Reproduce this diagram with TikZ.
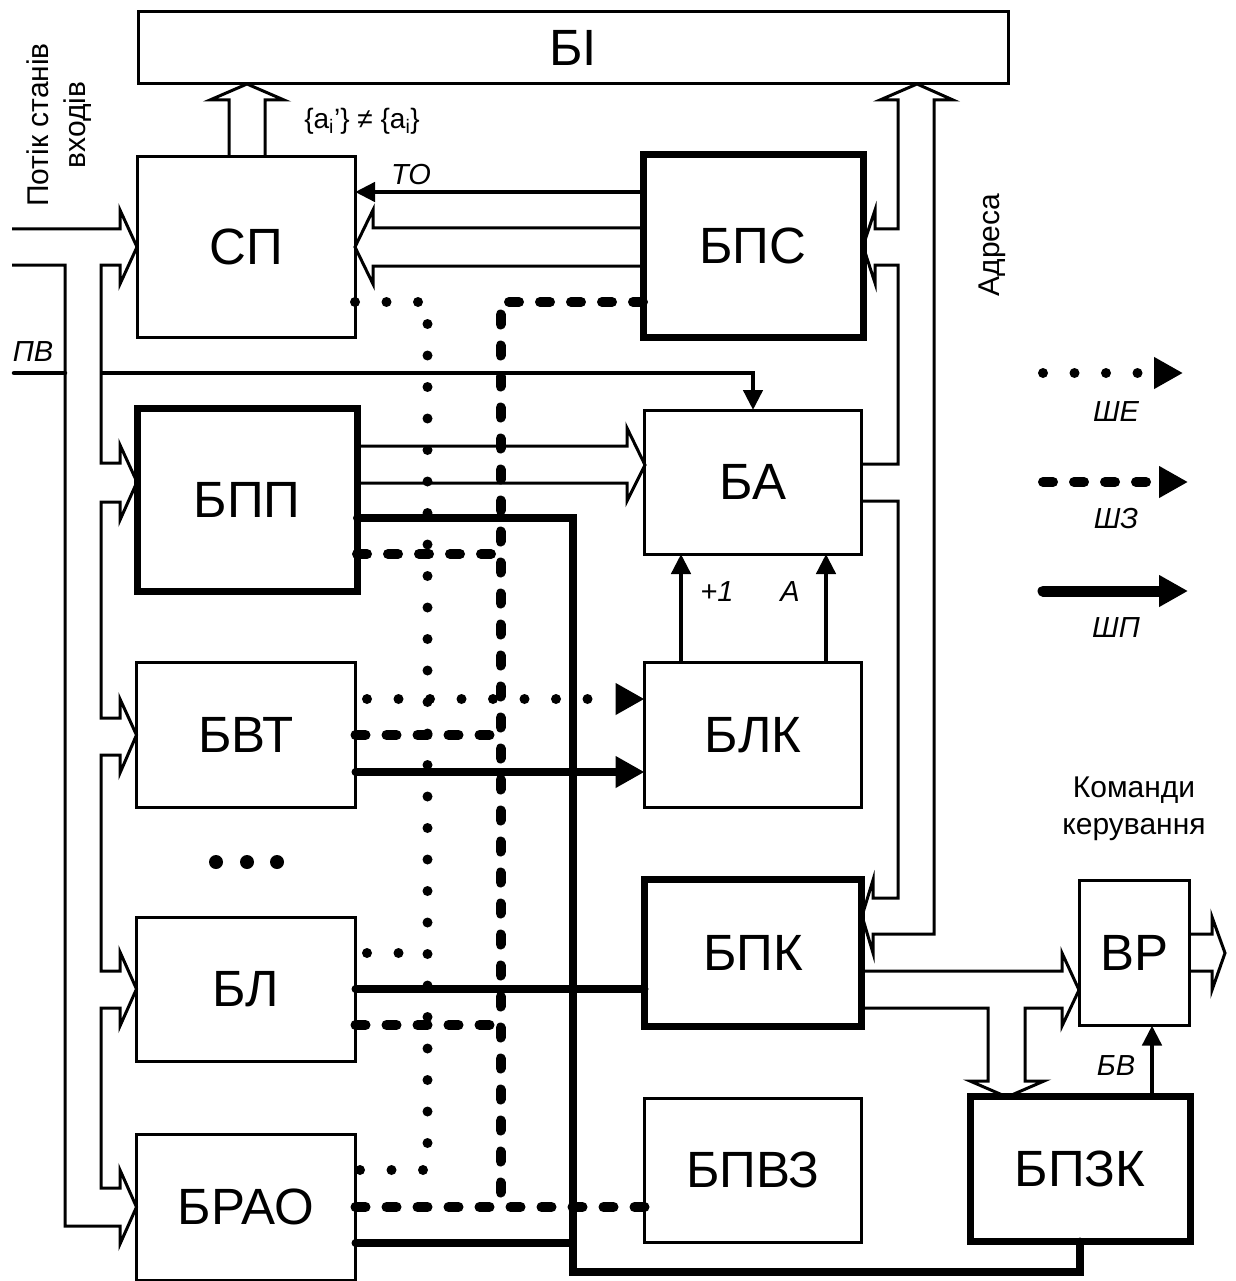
\documentclass[tikz,border=0pt]{standalone}
\usepackage{fontspec}
\setmainfont{Liberation Sans}
\usetikzlibrary{arrows.meta,calc}

\begin{document}
\begin{tikzpicture}[x=1pt,y=-1pt,
  box/.style={draw,line width=3pt,inner sep=0pt,outer sep=0pt,font=\fontsize{51}{58}\selectfont},
  boxb/.style={box,line width=7pt},
  bus/.style={line width=3pt},
  sig/.style={line width=4.5pt},
  shp/.style={line width=8pt,line cap=round},
  she/.style={line width=10pt,line cap=round,dash pattern=on 0pt off 31.5pt},
  shz/.style={line width=10pt,line cap=round,dash pattern=on 10pt off 21pt},
  headbig/.style={-{Triangle[length=29pt,width=30pt]}},
  headsm/.style={-{Triangle[length=20pt,width=19pt]}},
  lbl/.style={font=\fontsize{29}{33}\selectfont\itshape,inner sep=0pt},
  txt/.style={font=\fontsize{30}{37}\selectfont,inner sep=0pt,align=center}]
  \useasboundingbox (0,0) rectangle (1235,1281);

  \node[box,minimum width=870pt,minimum height=72pt] (bi) at (573,48) {БІ};
  \node[box,minimum width=218pt,minimum height=180pt] (sp) at (246,247) {СП};
  \node[boxb,minimum width=220pt,minimum height=182pt] (bps) at (753,246) {БПС};
  \node[boxb,minimum width=220pt,minimum height=183pt] (bpp) at (247,500) {БПП};
  \node[box,minimum width=217pt,minimum height=144pt] (ba) at (753,482) {БА};
  \node[box,minimum width=219pt,minimum height=145pt] (bvt) at (246,735) {БВТ};
  \node[box,minimum width=217pt,minimum height=145pt] (blk) at (753,735) {БЛК};
  \node[box,minimum width=219pt,minimum height=144pt] (bl) at (246,989) {БЛ};
  \node[boxb,minimum width=217pt,minimum height=147pt] (bpk) at (753,953) {БПК};
  \node[box,minimum width=219pt,minimum height=146pt] (brao) at (246,1207) {БРАО};
  \node[box,minimum width=217pt,minimum height=144pt] (bpvz) at (753,1170) {БПВЗ};
  \node[box,minimum width=110pt,minimum height=145pt] (vr) at (1134,953) {ВР};
  \node[boxb,minimum width=220pt,minimum height=145pt] (bpzk) at (1080,1169) {БПЗК};

  \node[txt,rotate=90] (flow) at (59,125) {Потік станів\\входів};
  \node[txt,rotate=90] (addr) at (992,245) {Адреса};
  \node[txt] (cmd) at (1134,809) {Команди\\керування};
  \node[font=\fontsize{28}{32}\selectfont,inner sep=0pt] (neq) at (362,121) {\{a\textsubscript{i}’\} ≠ \{a\textsubscript{i}\}};
  \node[lbl] (lto) at (411,175) {ТО};
  \node[lbl] (lpv) at (33,352) {ПВ};
  \node[lbl] (linc) at (717,592) {+1};
  \node[lbl] (lacc) at (790,592) {А};
  \node[lbl] (lbv) at (1116,1066) {БВ};

  % hollow buses
  \draw[bus] (229,157) -- (229,100) -- (210,100) -- (247,84) -- (284,100) -- (265,100) -- (265,157);
  \draw[bus] (12,229) -- (120,229) -- (120,210) -- (sp.west) -- (120,284) -- (120,265) -- (101,265)
    -- (101,463) -- (120,463) -- (120,445) -- (137,482) -- (120,520) -- (120,502) -- (101,502)
    -- (101,718) -- (120,718) -- (120,699) -- (bvt.west) -- (120,773) -- (120,755) -- (101,755)
    -- (101,971) -- (120,971) -- (120,952) -- (bl.west) -- (120,1026) -- (120,1008) -- (101,1008)
    -- (101,1188) -- (120,1188) -- (120,1170) -- (brao.west) -- (120,1244) -- (120,1226) -- (65,1226)
    -- (65,265) -- (12,265);
  \draw[bus] (643,228) -- (373,228) -- (373,210) -- (sp.east) -- (373,284) -- (373,266) -- (643,266);
  \draw[bus] (357,446) -- (627,446) -- (627,428) -- (645,465) -- (627,501) -- (627,483) -- (357,483);
  \draw[bus] (862,464) -- (898,464) -- (898,265) -- (875,265) -- (875,283) -- (bps.east) -- (875,210)
    -- (875,229) -- (898,229) -- (898,100) -- (880,100) -- (917,84) -- (953,100) -- (934,100)
    -- (934,934) -- (873,934) -- (873,953) -- (862,916) -- (873,880) -- (873,898) -- (898,898)
    -- (898,501) -- (862,501);
  \draw[bus] (862,971) -- (1062,971) -- (1062,953) -- (1079,990) -- (1062,1026) -- (1062,1008)
    -- (1025,1008) -- (1025,1081) -- (1044,1081) -- (1007,1097) -- (970,1081) -- (988,1081)
    -- (988,1008) -- (862,1008);
  \draw[bus] (1189,934) -- (1212,934) -- (1212,917) -- (1225,953) -- (1212,990) -- (1212,971) -- (1189,971);

  % single signals
  \coordinate (pv) at (14,373);
  \draw[sig,line cap=round] (pv) -- (65,373);
  \draw[sig,headsm] (101,373) -| (ba.north);
  \draw[sig,headsm] ($(bps.west)+(0,-54)$) coordinate (tob) -- (tob -| sp.east);
  \draw[sig,headsm] ($(blk.north)+(-72,0)$) coordinate (incb) -- (incb |- ba.south);
  \draw[sig,headsm] ($(blk.north)+(73,0)$) coordinate (accb) -- (accb |- ba.south);
  \draw[sig,headsm] ($(bpzk.north)+(72,0)$) coordinate (bvb) -- (bvb |- vr.south);

  % ШЕ
  \draw[she] ($(sp.east)+(0,55)$) -| ($(brao.east)+(72,-37)$) -- ($(brao.east)+(0,-37)$);
  \draw[she,dash phase=20pt] ($(bl.east)+(0,-36)$) -- ++(72,0);
  \draw[she,dash phase=20pt,headbig] ($(bvt.east)+(0,-36)$) coordinate (sheb) -- (sheb -| blk.west);

  % ШЗ
  \draw[shz] ($(bps.west)+(0,56)$) -| ($(brao.east)+(145,0)$);
  \draw[shz] (brao.east) -- (brao.east -| bpvz.west);
  \draw[shz] ($(bpp.east)+(0,54)$) -- ++(143,0);
  \draw[shz] (bvt.east) -- ++(144,0);
  \draw[shz] ($(bl.east)+(0,36)$) -- ++(144,0);

  % ШП
  \draw[shp] (bpzk.south) -- ++(0,30) -| ($(bpp.east)+(216,18)$) -- ($(bpp.east)+(0,18)$);
  \draw[shp,headbig] ($(bvt.east)+(0,37)$) coordinate (shpb) -- (shpb -| blk.west);
  \draw[shp] (bl.east) -- (bl.east -| bpk.west);
  \draw[shp] ($(brao.east)+(0,36)$) -- ++(217,0);

  \foreach \x in {216,247,277} \fill (\x,862) circle (7pt);

  % legend
  \coordinate (lgE) at (1043,373);
  \coordinate (lgZ) at (1043,482);
  \coordinate (lgP) at (1043,591);
  \draw[she,headbig] (lgE) -- ++(140,0);
  \draw[shz,headbig] (lgZ) -- ++(145,0);
  \draw[shp,line width=11pt,headbig] (lgP) -- ++(145,0);
  \node[lbl] (lgEt) at (1116,412) {ШЕ};
  \node[lbl] (lgZt) at (1116,519) {ШЗ};
  \node[lbl] (lgPt) at (1116,628) {ШП};
\end{tikzpicture}
\end{document}
